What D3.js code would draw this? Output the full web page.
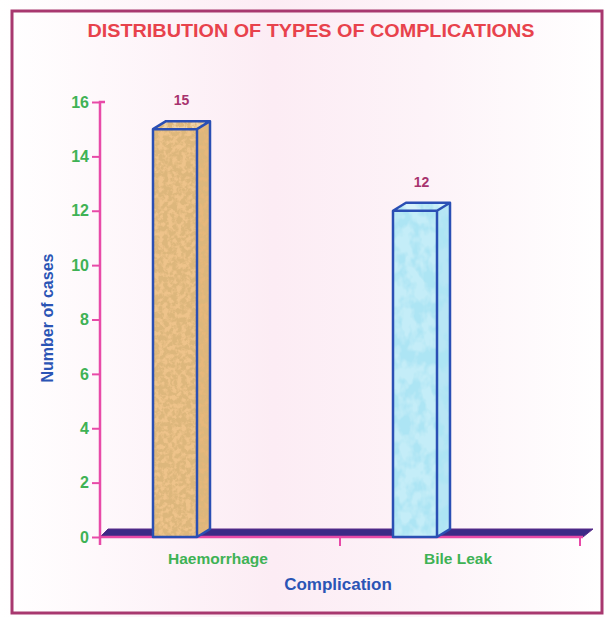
<!DOCTYPE html>
<html>
<head>
<meta charset="utf-8">
<script src="https://cdn.jsdelivr.net/npm/d3@7"></script>
<style>
  body { margin: 0; background: #fff; }
  svg { display: block; font-family: Arial, "Liberation Sans", sans-serif; }
</style>
</head>
<body>
<svg id="chart" width="609" height="617"></svg>
<script>
const categories = ["Haemorrhage", "Bile Leak"];
const cases = [15, 12];
const yTicks = [0, 2, 4, 6, 8, 10, 12, 14, 16];
const chartTitle = "DISTRIBUTION OF TYPES OF COMPLICATIONS";
const xTitle = "Complication";
const yTitle = "Number of cases";

const svg = d3.select("#chart");
const width = +svg.attr("width");
const height = +svg.attr("height");

const x = d3.scaleBand().domain(categories).range([100, 580]).padding(0);
const y = d3.scaleLinear().domain([0, 16]).range([537, 102]);

const depthX = 13, depthY = 8;
const barW = 44, barOffset = 53;

const defs = svg.append("defs");

// faint pink wash like the scanned page
const bg = defs.append("linearGradient").attr("id", "bg");
bg.append("stop").attr("offset", "0%").attr("stop-color", "#ffffff");
bg.append("stop").attr("offset", "45%").attr("stop-color", "#fcecf4");
bg.append("stop").attr("offset", "70%").attr("stop-color", "#fdf3f8");
bg.append("stop").attr("offset", "100%").attr("stop-color", "#ffffff");

function texture(id, freq, seed, rgb, a, b) {
  const f = defs.append("filter").attr("id", id)
    .attr("x", 0).attr("y", 0).attr("width", "100%").attr("height", "100%");
  f.append("feTurbulence").attr("type", "fractalNoise").attr("baseFrequency", freq)
    .attr("numOctaves", 3).attr("seed", seed).attr("result", "n");
  f.append("feColorMatrix").attr("in", "n").attr("type", "matrix")
    .attr("values", `0 0 0 0 ${rgb[0]}  0 0 0 0 ${rgb[1]}  0 0 0 0 ${rgb[2]}  ${a} 0 0 0 ${b}`)
    .attr("result", "spots");
  f.append("feComposite").attr("in", "spots").attr("in2", "SourceGraphic")
    .attr("operator", "in").attr("result", "s2");
  const m = f.append("feMerge");
  m.append("feMergeNode").attr("in", "SourceGraphic");
  m.append("feMergeNode").attr("in", "s2");
}
texture("cork", 0.22, 4, [0.72, 0.47, 0.2], 4.4, -1.6);
texture("water", "0.08 0.06", 9, [0.42, 0.78, 0.9], 4.0, -1.6);

const fills = { "Haemorrhage": { base: "#eec38a", side: "#e6b87c", top: "#f2d4a6", filter: "url(#cork)" },
                "Bile Leak":   { base: "#c4edf8", side: "#b8e6f5", top: "#d6f3fb", filter: "url(#water)" } };

// page + frame
svg.append("rect").attr("width", width).attr("height", height).attr("fill", "url(#bg)");
svg.append("rect").attr("x", 12).attr("y", 11).attr("width", 590).attr("height", 602)
  .attr("fill", "none").attr("stroke", "#a8386f").attr("stroke-width", 3);

// title
svg.append("text").attr("x", 311).attr("y", 37).attr("text-anchor", "middle")
  .attr("font-size", 19).attr("font-weight", "bold").attr("fill", "#e8424c")
  .attr("textLength", 447).attr("lengthAdjust", "spacingAndGlyphs").text(chartTitle);

// 3D floor
const y0 = y(0);
svg.append("path")
  .attr("d", `M100,${y0} L${100 + depthX - 5},${y0 - depthY} L${583 + 10},${y0 - depthY} L583,${y0} Z`)
  .attr("fill", "#3c2a86").attr("stroke", "#5a2a8a").attr("stroke-width", 1);
svg.append("line").attr("x1", 100).attr("x2", 583).attr("y1", y0).attr("y2", y0)
  .attr("stroke", "#e84aa8").attr("stroke-width", 2.5);

// x ticks between / after categories
const xTickPos = [x(categories[1]), x.range()[1]];
svg.selectAll(".xtick").data(xTickPos).join("line")
  .attr("x1", d => d).attr("x2", d => d).attr("y1", y0).attr("y2", y0 + 9)
  .attr("stroke", "#e84aa8").attr("stroke-width", 2);

// bars
categories.forEach((c, i) => {
  const v = cases[i];
  const x0 = x(c) + barOffset;
  const top = y(v);
  const f = fills[c];
  const g = svg.append("g");
  // side
  g.append("path")
    .attr("d", `M${x0 + barW},${top} L${x0 + barW + depthX},${top - depthY} L${x0 + barW + depthX},${y0 - depthY} L${x0 + barW},${y0} Z`)
    .attr("fill", f.side).attr("filter", f.filter);
  // top
  g.append("path")
    .attr("d", `M${x0},${top} L${x0 + depthX},${top - depthY} L${x0 + barW + depthX},${top - depthY} L${x0 + barW},${top} Z`)
    .attr("fill", f.top).attr("filter", f.filter);
  // front
  g.append("rect").attr("x", x0).attr("y", top).attr("width", barW).attr("height", y0 - top)
    .attr("fill", f.base).attr("filter", f.filter);
  // outlines
  g.append("path")
    .attr("d", `M${x0},${y0} L${x0},${top} L${x0 + depthX},${top - depthY} L${x0 + barW + depthX},${top - depthY} L${x0 + barW + depthX},${y0 - depthY} L${x0 + barW},${y0} Z M${x0},${top} L${x0 + barW},${top} L${x0 + barW + depthX},${top - depthY} M${x0 + barW},${top} L${x0 + barW},${y0}`)
    .attr("fill", "none").attr("stroke", "#2a4fb4").attr("stroke-width", 2.5).attr("stroke-linejoin", "round");
  // value label
  svg.append("text").attr("x", x0 + (barW + depthX) / 2).attr("y", top - depthY - 16)
    .attr("text-anchor", "middle").attr("font-size", 14).attr("font-weight", "bold")
    .attr("fill", "#a8336e").text(v);
});

// y axis
const yAxis = svg.append("g").attr("transform", "translate(100,0)")
  .call(d3.axisLeft(y).tickValues(yTicks).tickSize(8).tickPadding(3).tickSizeOuter(0));
yAxis.select(".domain").attr("stroke", "#e84aa8").attr("stroke-width", 2.5)
  .attr("d", `M5,${y(16)}H0V${y0 + 8}`);
yAxis.selectAll(".tick line").attr("stroke", "#e84aa8").attr("stroke-width", 2);
yAxis.selectAll(".tick text").attr("fill", "#3fb255").attr("font-size", 16)
  .attr("font-weight", "bold").attr("font-family", "Arial, 'Liberation Sans', sans-serif");

// category labels
svg.selectAll(".cat").data(categories).join("text")
  .attr("x", d => x(d) + x.bandwidth() / 2 - 2).attr("y", 564)
  .attr("text-anchor", "middle").attr("font-size", 15.5).attr("font-weight", "bold")
  .attr("fill", "#3fb255").text(d => d);

// axis titles
svg.append("text").attr("x", 338).attr("y", 590).attr("text-anchor", "middle")
  .attr("font-size", 17).attr("font-weight", "bold").attr("fill", "#2b55b5").text(xTitle);
svg.append("text").attr("transform", "translate(53,318) rotate(-90)")
  .attr("text-anchor", "middle").attr("font-size", 16).attr("font-weight", "bold")
  .attr("fill", "#2b55b5").text(yTitle);
</script>
</body>
</html>
